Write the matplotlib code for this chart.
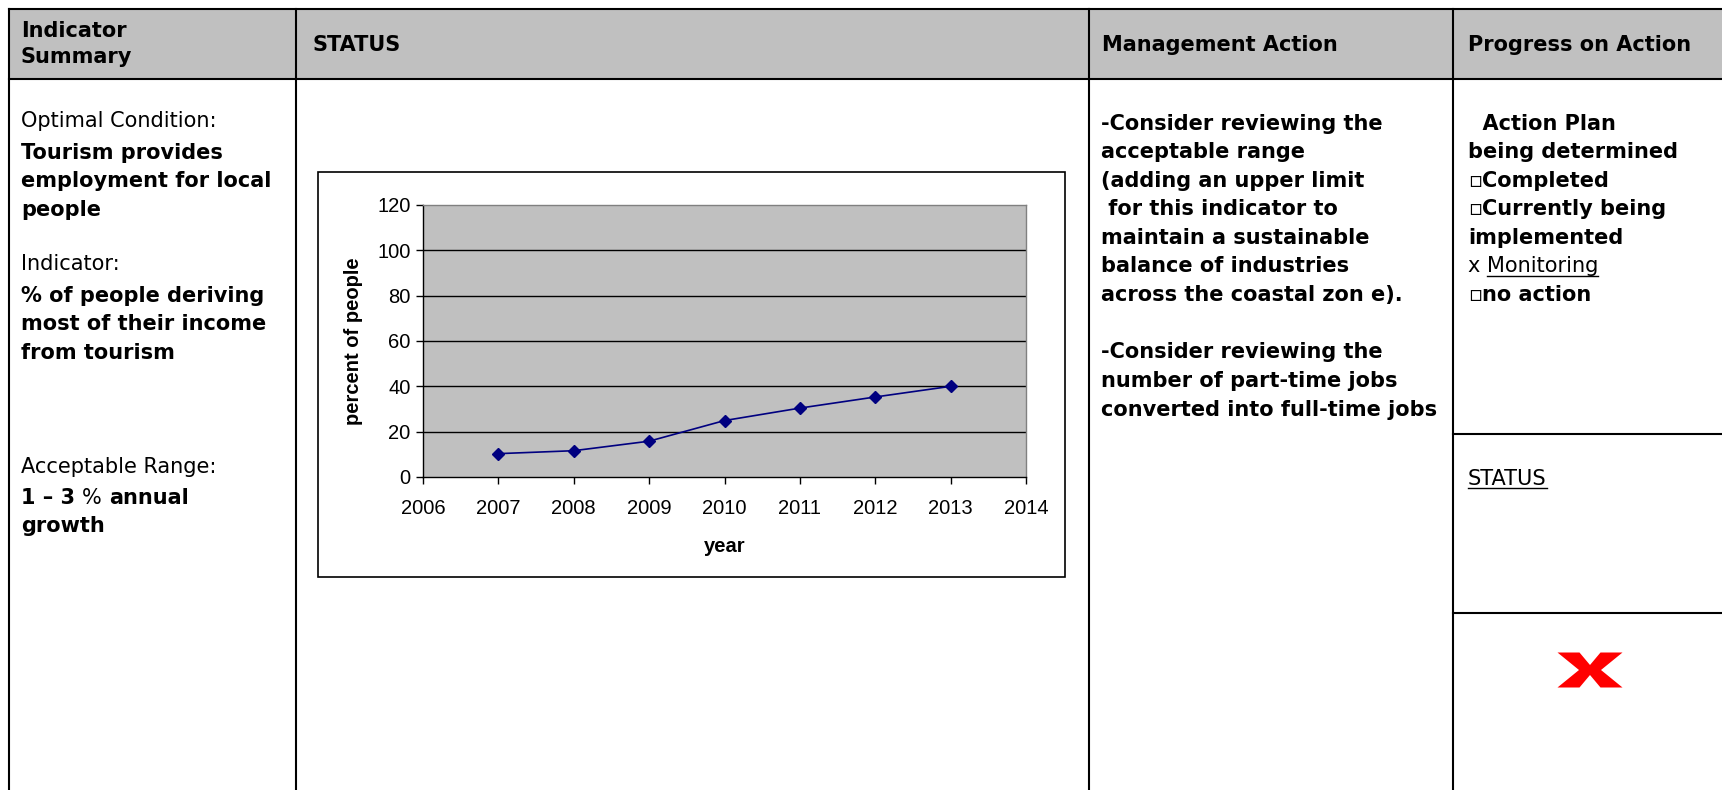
import matplotlib
matplotlib.use('Agg')
import matplotlib.pyplot as plt
from matplotlib.patches import Rectangle, Polygon
from matplotlib.font_manager import FontProperties

# chart data
years = [2007, 2008, 2009, 2010, 2011, 2012, 2013]
percent_people = [10.3, 11.6, 15.8, 24.9, 30.4, 35.3, 40.0]
x_ticks = list(range(2006, 2015))
y_ticks = [0, 20, 40, 60, 80, 100, 120]

# table text
header_left = ['Indicator', 'Summary']
headers = ['STATUS', 'Management Action', 'Progress on Action']

summary_block1 = [
    [('Optimal Condition:', 'normal', False)],
    [('Tourism provides', 'bold', False)],
    [('employment for local', 'bold', False)],
    [('people', 'bold', False)],
    [],
    [('Indicator:', 'normal', False)],
    [('% of people deriving', 'bold', False)],
    [('most of their income', 'bold', False)],
    [('from tourism', 'bold', False)],
]
summary_block2 = [
    [('Acceptable Range:', 'normal', False)],
    [('1 \u2013 3 ', 'bold', False), ('% ', 'normal', False), ('annual', 'bold', False)],
    [('growth', 'bold', False)],
]
management_lines = [
    '-Consider reviewing the',
    'acceptable range',
    '(adding an upper limit',
    ' for this indicator to',
    'maintain a sustainable',
    'balance of industries',
    'across the coastal zon e).',
    '',
    '-Consider reviewing the',
    'number of part-time jobs',
    'converted into full-time jobs',
]
progress_lines = [
    [('  Action Plan', 'bold', False)],
    [('being determined', 'bold', False)],
    [('\u25ab', 'normal', False), ('Completed', 'bold', False)],
    [('\u25ab', 'normal', False), ('Currently being', 'bold', False)],
    [('implemented', 'bold', False)],
    [('x ', 'normal', False), ('Monitoring', 'normal', True)],
    [('\u25ab', 'normal', False), ('no action', 'bold', False)],
]

W, H = 1722, 790
fig = plt.figure(figsize=(W / 100, H / 100), dpi=100)
bg = fig.add_axes([0, 0, 1, 1])
bg.set_xlim(0, W)
bg.set_ylim(H, 0)
bg.axis('off')
renderer = fig.canvas.get_renderer()

TFONT = 'DejaVu Sans'
TSIZE = 15
LW = 1.5

# header band and grid lines
bg.add_patch(Rectangle((9, 9), W - 9, 70, facecolor='#C0C0C0', edgecolor='none'))
bg.plot([9, W], [9, 9], color='black', lw=LW)
bg.plot([9, W], [79, 79], color='black', lw=LW)
for cx in [9, 296, 1089, 1453]:
    bg.plot([cx, cx], [9, H], color='black', lw=LW)
for cy in [434, 613]:
    bg.plot([1453, W], [cy, cy], color='black', lw=LW)


def advance(s, weight):
    fp = FontProperties(family=TFONT, weight=weight, size=TSIZE)
    w1, _, _ = renderer.get_text_width_height_descent(s + 'l', fp, ismath=False)
    w2, _, _ = renderer.get_text_width_height_descent('l', fp, ismath=False)
    return w1 - w2


def draw_runs(x, y, runs):
    for s, weight, underline in runs:
        bg.text(x, y, s, family=TFONT, fontsize=TSIZE, fontweight=weight,
                ha='left', va='baseline')
        w = advance(s, weight)
        if underline:
            bg.plot([x, x + w], [y + 3, y + 3], color='black', lw=1)
        x += w


# headers
for i, s in enumerate(header_left):
    bg.text(21, 37 + i * 26, s, family=TFONT, fontsize=TSIZE,
            fontweight='bold', ha='left', va='baseline')
for x, s in zip([312, 1102, 1468], headers):
    bg.text(x, 51, s, family=TFONT, fontsize=TSIZE, fontweight='bold',
            ha='left', va='baseline')

STEP = 28.6
for i, runs in enumerate(summary_block1):
    # regular-weight lead lines sit a little higher
    lift = 3 if runs and runs[0][1] == 'normal' else 0
    draw_runs(21, 130 + i * STEP - lift, runs)
for i, runs in enumerate(summary_block2):
    draw_runs(21, 475 + i * STEP - (2 if i == 0 else 0), runs)
for i, s in enumerate(management_lines):
    draw_runs(1101, 129.5 + i * STEP, [(s, 'bold', False)])
for i, runs in enumerate(progress_lines):
    draw_runs(1468, 129.5 + i * STEP, runs)
draw_runs(1468, 485, [('STATUS', 'normal', True)])

# red cross in the status cell
cx, cy, hw, hh, t, yn, xn = 1590, 670, 32.5, 17.5, 22, 5, 11
cross = [(cx - hw, cy - hh), (cx - hw + t, cy - hh), (cx, cy - yn),
         (cx + hw - t, cy - hh), (cx + hw, cy - hh), (cx + xn, cy),
         (cx + hw, cy + hh), (cx + hw - t, cy + hh), (cx, cy + yn),
         (cx - hw + t, cy + hh), (cx - hw, cy + hh), (cx - xn, cy)]
bg.add_patch(Polygon(cross, closed=True, facecolor='#FF0000', edgecolor='none'))

# chart frame
bg.add_patch(Rectangle((318, 172), 747, 405, facecolor='white', edgecolor='black', lw=1.2))

# chart
CFONT = 'Liberation Sans'
ax = fig.add_axes([423 / W, 1 - 477 / H, 603 / W, 272 / H])
ax.set_facecolor('#C0C0C0')
for v in y_ticks[1:-1]:
    ax.axhline(v, color='black', lw=1, zorder=1)
ax.plot(years, percent_people, color='#000080', marker='D', markersize=6, lw=1.2, zorder=3)
ax.set_xlim(x_ticks[0], x_ticks[-1])
ax.set_ylim(y_ticks[0], y_ticks[-1])
ax.set_xticks(x_ticks)
ax.set_yticks(y_ticks)
ax.tick_params(direction='out', length=5, width=1, color='black', labelsize=14.5)
ax.tick_params(axis='x', pad=11)
ax.tick_params(axis='y', pad=4)
for lab in ax.get_xticklabels() + ax.get_yticklabels():
    lab.set_family(CFONT)
for side in ['left', 'bottom']:
    ax.spines[side].set_color('black')
    ax.spines[side].set_linewidth(1)
for side in ['top', 'right']:
    ax.spines[side].set_color('#808080')
    ax.spines[side].set_linewidth(1)

ax.set_xlabel('year', family=CFONT, fontsize=14.5, fontweight='bold')
ax.xaxis.set_label_coords(0.5, -0.254)
ax.xaxis.label.set_verticalalignment('center')
ax.set_ylabel('percent of people', family=CFONT, fontsize=14.5, fontweight='bold')
ax.yaxis.set_label_coords(-0.116, 0.5)
ax.yaxis.label.set_verticalalignment('center')

fig.savefig('out.png', dpi=100)
